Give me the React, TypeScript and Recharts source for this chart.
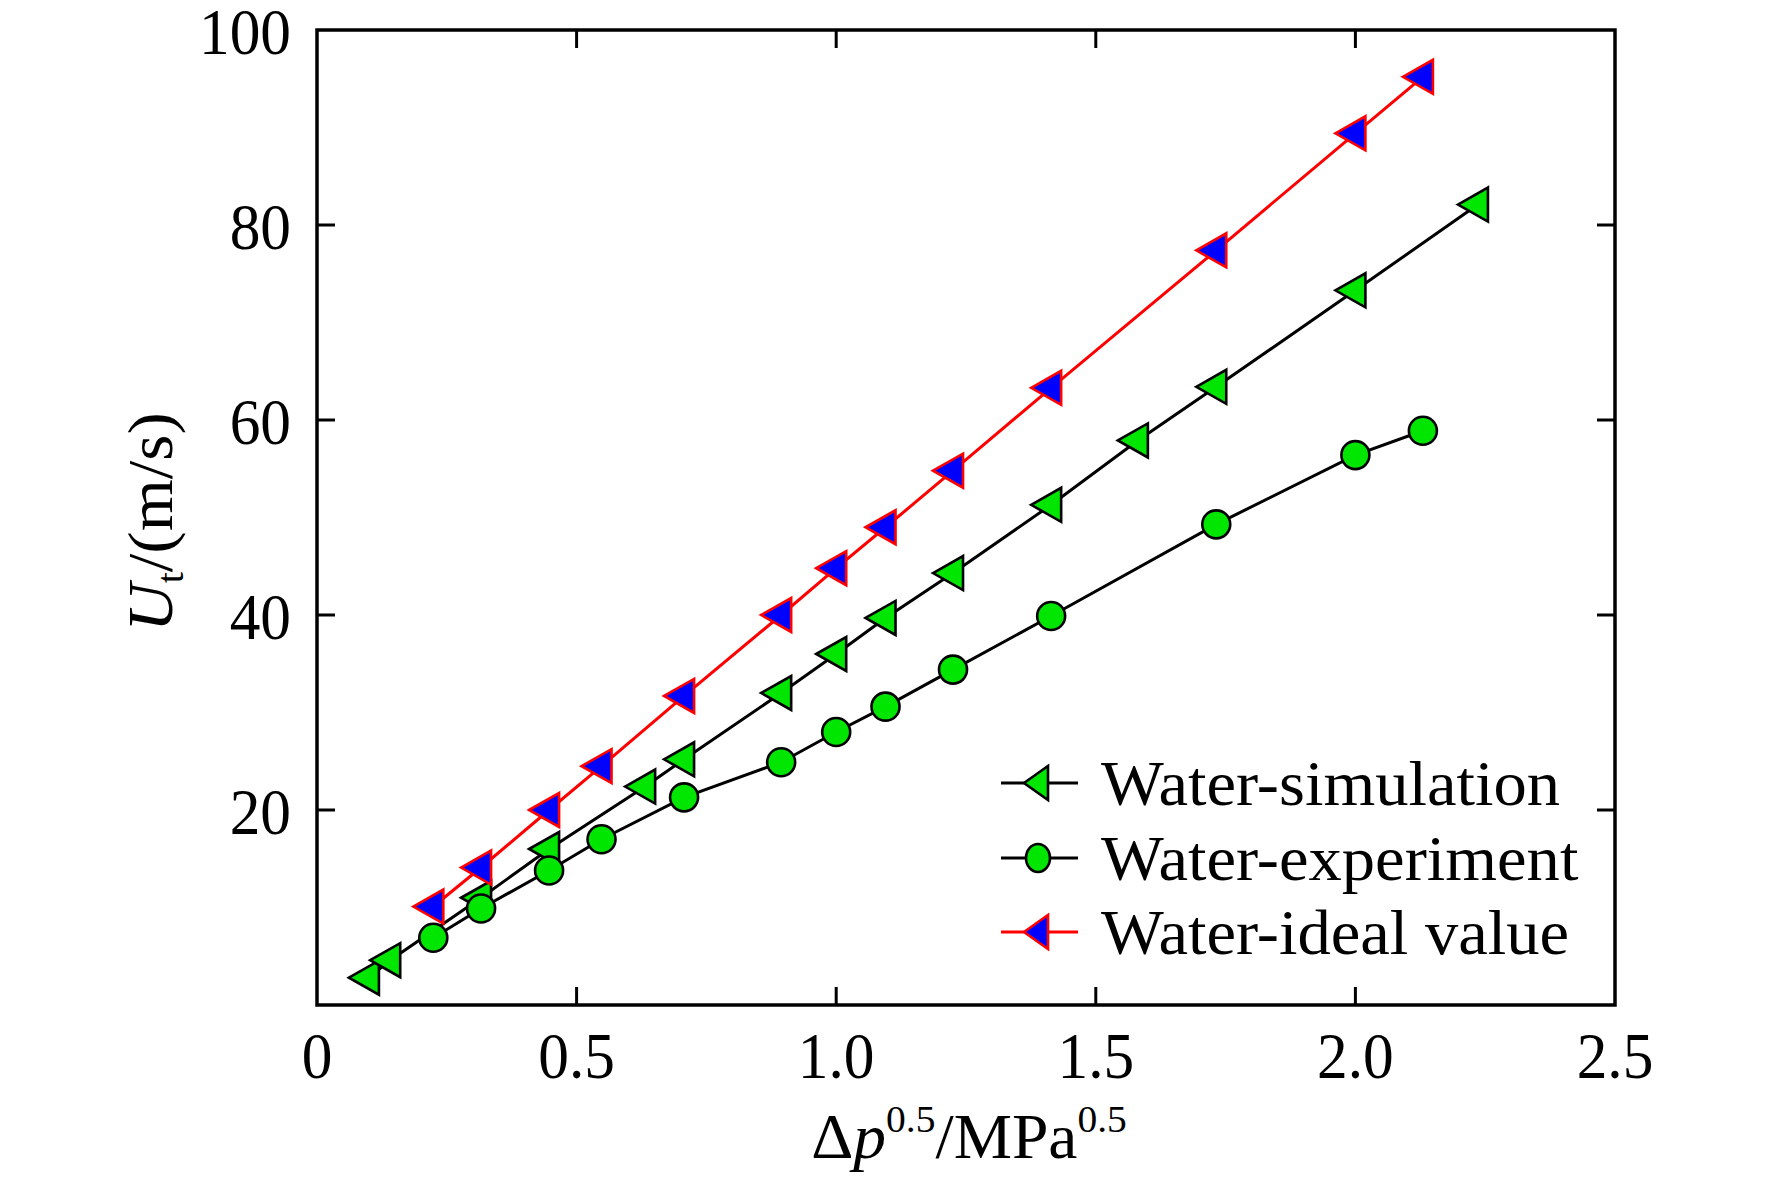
import React from "react";
import { LineChart, Line, XAxis, YAxis, ReferenceArea, Legend } from "recharts";

// values
const simX = [0.1, 0.141, 0.316, 0.447, 0.632, 0.707, 0.894, 1.0, 1.095, 1.225, 1.414, 1.581, 1.732, 2.0, 2.236];
const simY = [2.8, 4.6, 11.0, 16.0, 22.4, 25.2, 32.0, 36.0, 39.7, 44.3, 51.3, 57.9, 63.4, 73.3, 82.1];

const expX = [0.224, 0.316, 0.447, 0.548, 0.707, 0.894, 1.0, 1.095, 1.225, 1.414, 1.732, 2.0, 2.13];
const expY = [6.9, 9.9, 13.8, 17.0, 21.3, 24.9, 28.0, 30.6, 34.4, 39.9, 49.3, 56.4, 58.9];

const idealX = [0.224, 0.316, 0.447, 0.548, 0.707, 0.894, 1.0, 1.095, 1.225, 1.414, 1.732, 2.0, 2.13];
const idealY = [10.1, 14.1, 20.0, 24.5, 31.7, 40.0, 44.8, 49.0, 54.8, 63.3, 77.4, 89.4, 95.2];

const xTicks = [0, 0.5, 1, 1.5, 2, 2.5];
const xTickLabels = ["0", "0.5", "1.0", "1.5", "2.0", "2.5"];
const yTicks = [20, 40, 60, 80, 100];

const seriesNames = ["Water-simulation", "Water-experiment", "Water-ideal value"];

const zip = (xs: number[], ys: number[]) => xs.map((x, i) => ({ x, y: ys[i] }));
const simData = zip(simX, simY);
const expData = zip(expX, expY);
const idealData = zip(idealX, idealY);

const W = 1772;
const H = 1178;
const PLOT_L = 317;
const PLOT_T = 30;
const PLOT_R = 1615;
const PLOT_B = 1005;
const PLOT_W = PLOT_R - PLOT_L;
const PLOT_H = PLOT_B - PLOT_T;
const FONT = "'Liberation Serif', 'Times New Roman', serif";
const TICK_SQ = 0.93;
const GREEN = "#00e600";
const BLUE = "#0000ff";
const RED = "#ff0000";
const TICK = 18;

function Tri({ cx, cy, fill, stroke, w = 30, h = 34 }: any) {
  if (cx == null || cy == null) return null;
  const d = `M${cx - (2 * w) / 3},${cy} L${cx + w / 3},${cy - h / 2} L${cx + w / 3},${cy + h / 2} Z`;
  return <path d={d} fill={fill} stroke={stroke} strokeWidth={2.6} strokeLinejoin="miter" />;
}

function Circ({ cx, cy }: any) {
  if (cx == null || cy == null) return null;
  return <circle cx={cx} cy={cy} r={14} fill={GREEN} stroke="#000" strokeWidth={2.6} />;
}

function XTick({ x, y, payload }: any) {
  const v = payload.value;
  const idx = xTicks.indexOf(v);
  const corner = v === 0 || v === 2.5;
  return (
    <g>
      {!corner && <line x1={x} y1={y} x2={x} y2={y - TICK} stroke="#000" strokeWidth={3} />}
      {!corner && <line x1={x} y1={y - PLOT_H} x2={x} y2={y - PLOT_H + TICK} stroke="#000" strokeWidth={3} />}
      <text transform={`translate(${x},${y + 73}) scale(${TICK_SQ},1)`} textAnchor="middle" fontFamily={FONT} fontSize={66} fill="#000">
        {xTickLabels[idx] ?? String(v)}
      </text>
    </g>
  );
}

function YTick({ x, y, payload }: any) {
  const v = payload.value;
  const corner = v === 100;
  return (
    <g>
      {!corner && <line x1={x} y1={y} x2={x + TICK} y2={y} stroke="#000" strokeWidth={3} />}
      {!corner && <line x1={x + PLOT_W} y1={y} x2={x + PLOT_W - TICK} y2={y} stroke="#000" strokeWidth={3} />}
      <text transform={`translate(${x - 26},${y + 24}) scale(${TICK_SQ},1)`} textAnchor="end" fontFamily={FONT} fontSize={66} fill="#000">
        {v}
      </text>
    </g>
  );
}

function XTitle() {
  return (
    <text transform={`translate(${969},${1158}) scale(1.04,1)`} textAnchor="middle" fontFamily={FONT} fontSize={63} fill="#000">
      <tspan>Δ</tspan>
      <tspan fontStyle="italic">p</tspan>
      <tspan fontSize={38} dy={-26}>0.5</tspan>
      <tspan dy={26}>/MPa</tspan>
      <tspan fontSize={38} dy={-26}>0.5</tspan>
    </text>
  );
}

function YTitle() {
  return (
    <text transform={`translate(${172},${522}) scale(0.95,1) rotate(-90)`} textAnchor="middle" fontFamily={FONT} fontSize={67} fill="#000">
      <tspan fontStyle="italic">U</tspan>
      <tspan fontSize={40} dy={12}>t</tspan>
      <tspan dy={-12}>/(m/s)</tspan>
    </text>
  );
}

function LegendBox() {
  const rows = [43, 118, 192];
  return (
    <svg width={620} height={230} style={{ display: "block", overflow: "visible" }}>
      {seriesNames.map((name, i) => {
        const y = rows[i];
        const lineColor = i === 2 ? RED : "#000";
        return (
          <g key={name}>
            <line x1={18} y1={y} x2={95} y2={y} stroke={lineColor} strokeWidth={3} />
            {i === 0 && <Tri cx={57} cy={y} fill={GREEN} stroke="#000" w={24} h={34} />}
            {i === 1 && <ellipse cx={55} cy={y} rx={12} ry={14} fill={GREEN} stroke="#000" strokeWidth={2.6} />}
            {i === 2 && <Tri cx={57} cy={y} fill={BLUE} stroke={RED} w={24} h={34} />}
            <text transform={`translate(118,${y + 22}) scale(1.04,1)`} fontFamily={FONT} fontSize={64} fill="#000">
              {name}
            </text>
          </g>
        );
      })}
    </svg>
  );
}

export default function App() {
  return (
    <div style={{ width: W, height: H, background: "#fff" }}>
      <style>{"body{margin:0;background:#fff}"}</style>
      <LineChart
        width={W}
        height={H}
        margin={{ top: PLOT_T, right: W - PLOT_R, left: PLOT_L - 60, bottom: H - PLOT_B - 30 }}
      >
        <XAxis
          dataKey="x"
          type="number"
          domain={[0, 2.5]}
          ticks={xTicks}
          height={30}
          axisLine={false}
          tickLine={false}
          tickSize={0}
          tickMargin={0}
          interval={0}
          tick={<XTick />}
          label={<XTitle />}
          allowDataOverflow
        />
        <YAxis
          dataKey="y"
          type="number"
          domain={[0, 100]}
          ticks={yTicks}
          width={60}
          axisLine={false}
          tickLine={false}
          tickSize={0}
          tickMargin={0}
          interval={0}
          tick={<YTick />}
          label={<YTitle />}
          allowDataOverflow
        />
        <ReferenceArea x1={0} x2={2.5} y1={0} y2={100} fill="none" stroke="#000" strokeWidth={3.5} />
        <Line
          data={simData}
          dataKey="y"
          name={seriesNames[0]}
          type="linear"
          stroke="#000"
          strokeWidth={3}
          isAnimationActive={false}
          dot={(p: any) => <Tri key={`s${p.index}`} cx={p.cx} cy={p.cy} fill={GREEN} stroke="#000" />}
        />
        <Line
          data={expData}
          dataKey="y"
          name={seriesNames[1]}
          type="linear"
          stroke="#000"
          strokeWidth={3}
          isAnimationActive={false}
          dot={(p: any) => <Circ key={`e${p.index}`} cx={p.cx} cy={p.cy} />}
        />
        <Line
          data={idealData}
          dataKey="y"
          name={seriesNames[2]}
          type="linear"
          stroke={RED}
          strokeWidth={3}
          isAnimationActive={false}
          dot={(p: any) => <Tri key={`i${p.index}`} cx={p.cx} cy={p.cy} fill={BLUE} stroke={RED} />}
        />
        <Legend
          layout="vertical"
          align="center"
          verticalAlign="middle"
          content={() => <LegendBox />}
          wrapperStyle={{ position: "absolute", left: 983, top: 740, width: 620, height: 230 }}
        />
      </LineChart>
    </div>
  );
}
